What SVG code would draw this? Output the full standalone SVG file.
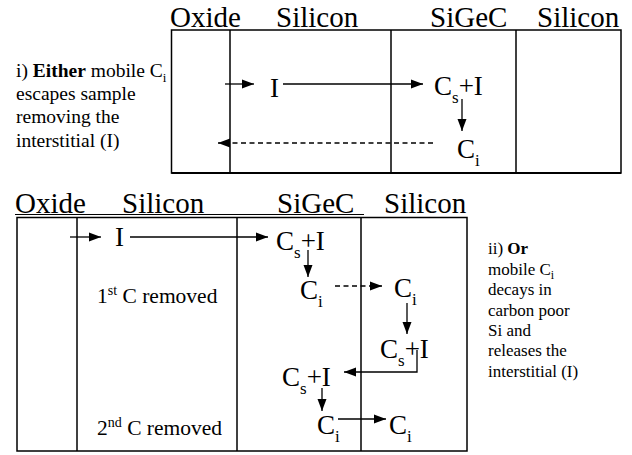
<svg xmlns="http://www.w3.org/2000/svg" width="632" height="455" viewBox="0 0 632 455" font-family="'Liberation Serif', 'Times New Roman', 'DejaVu Serif', serif">
<defs>
<style>
text{font-family:'Liberation Serif','Times New Roman','DejaVu Serif',serif;fill:#000}
.hd{font-size:29px}
.ch{font-size:27px}
.sb{font-size:17px}
.cap{font-size:19.5px}
.cap2{font-size:17px}
.rm{font-size:21.5px}
.box{fill:none;stroke:#000;stroke-width:1.5}
.ln{stroke:#000;stroke-width:1.5;fill:none}
.con{stroke:#000;stroke-width:1.3;fill:none}
.dash{stroke-dasharray:5 3.5}
</style>
<marker id="ah" markerUnits="userSpaceOnUse" markerWidth="13" markerHeight="10" refX="12" refY="5" orient="auto">
<path d="M0,0.5 L12,5 L0,9.5 Z" fill="#000"/>
</marker>
</defs>
<rect width="632" height="455" fill="#fff"/>

<g id="top-panel">
<text class="hd" x="170" y="27">Oxide</text>
<text class="hd" x="276" y="27">Silicon</text>
<text class="hd" x="430" y="27">SiGeC</text>
<text class="hd" x="537" y="27">Silicon</text>
<rect class="box" x="171.5" y="30" width="449.5" height="143"/>
<line x1="171.5" y1="173" x2="621" y2="173" stroke="#000" stroke-width="2"/>
<line class="ln" x1="230" y1="30" x2="230" y2="173"/>
<line class="ln" x1="391" y1="30" x2="391" y2="173"/>
<line class="ln" x1="516" y1="30" x2="516" y2="173"/>
</g>

<g id="top-caption">
<text class="cap" x="16" y="77">i) <tspan font-weight="bold">Either</tspan> mobile C<tspan font-size="13" dy="5">i</tspan></text>
<text class="cap" x="16" y="100">escapes sample</text>
<text class="cap" x="16" y="123">removing the</text>
<text class="cap" x="16" y="147">interstitial (I)</text>
</g>

<g id="t-I"><text class="ch" x="270" y="97">I</text></g>
<g id="t-CsI"><text class="ch" x="434" y="95">C<tspan class="sb" dy="8">s</tspan><tspan dy="-8">+I</tspan></text></g>
<g id="t-Ci"><text class="ch" x="457" y="158">C<tspan class="sb" dy="8">i</tspan></text></g>

<g id="bottom-panel">
<text class="hd" x="15" y="213">Oxide</text>
<text class="hd" x="122" y="213">Silicon</text>
<text class="hd" x="277" y="213">SiGeC</text>
<text class="hd" x="384" y="213">Silicon</text>
<line x1="15" y1="214.5" x2="364" y2="214.5" stroke="#000" stroke-width="1"/>
<rect class="box" x="17" y="217.5" width="450" height="233.5"/>
<line class="ln" x1="77" y1="217.5" x2="77" y2="451"/>
<line class="ln" x1="237" y1="217.5" x2="237" y2="451"/>
<line class="ln" x1="361" y1="217.5" x2="361" y2="451"/>
<text class="rm" x="97" y="303">1<tspan font-size="14" dy="-8">st</tspan><tspan dy="8"> C removed</tspan></text>
<text class="rm" x="97" y="435">2<tspan font-size="14" dy="-8">nd</tspan><tspan dy="8"> C removed</tspan></text>
</g>

<g id="bottom-caption">
<text class="cap2" x="488" y="254">ii) <tspan font-weight="bold">Or</tspan></text>
<text class="cap2" x="488" y="275">mobile C<tspan font-size="12" dy="4">i</tspan></text>
<text class="cap2" x="488" y="295">decays in</text>
<text class="cap2" x="488" y="316">carbon poor</text>
<text class="cap2" x="488" y="336">Si and</text>
<text class="cap2" x="488" y="356">releases the</text>
<text class="cap2" x="488" y="377">interstitial (I)</text>
</g>

<g id="b-I"><text class="ch" x="115" y="246">I</text></g>
<g id="b-CsI1"><text class="ch" x="276" y="250">C<tspan class="sb" dy="8">s</tspan><tspan dy="-8">+I</tspan></text></g>
<g id="b-Ci1"><text class="ch" x="300" y="299">C<tspan class="sb" dy="8">i</tspan></text></g>
<g id="b-Ci2"><text class="ch" x="394" y="297">C<tspan class="sb" dy="8">i</tspan></text></g>
<g id="b-CsI2"><text class="ch" x="380" y="358">C<tspan class="sb" dy="8">s</tspan><tspan dy="-8">+I</tspan></text></g>
<g id="b-CsI3"><text class="ch" x="282" y="386">C<tspan class="sb" dy="8">s</tspan><tspan dy="-8">+I</tspan></text></g>
<g id="b-Ci3"><text class="ch" x="317" y="434">C<tspan class="sb" dy="8">i</tspan></text></g>
<g id="b-Ci4"><text class="ch" x="389" y="434">C<tspan class="sb" dy="8">i</tspan></text></g>

<g id="connectors">
<line class="con" x1="225" y1="84" x2="254" y2="84" marker-end="url(#ah)"/>
<line class="con" x1="283" y1="84" x2="423" y2="84" marker-end="url(#ah)"/>
<line class="con" x1="462" y1="99" x2="462" y2="131" marker-end="url(#ah)"/>
<line class="con dash" x1="433" y1="143" x2="218" y2="143" marker-end="url(#ah)"/>
<line class="con" x1="70" y1="237" x2="101" y2="237" marker-end="url(#ah)"/>
<line class="con" x1="130" y1="237" x2="268" y2="237" marker-end="url(#ah)"/>
<line class="con" x1="308" y1="250" x2="308" y2="277" marker-end="url(#ah)"/>
<line class="con dash" x1="335" y1="286" x2="382" y2="286" marker-end="url(#ah)"/>
<line class="con" x1="407" y1="303" x2="407" y2="334" marker-end="url(#ah)"/>
<polyline class="con" points="417,350 417,372 344,372" marker-end="url(#ah)"/>
<line class="con" x1="322" y1="388" x2="322" y2="411" marker-end="url(#ah)"/>
<line class="con" x1="338" y1="419" x2="386" y2="419" marker-end="url(#ah)"/>
</g>
</svg>
